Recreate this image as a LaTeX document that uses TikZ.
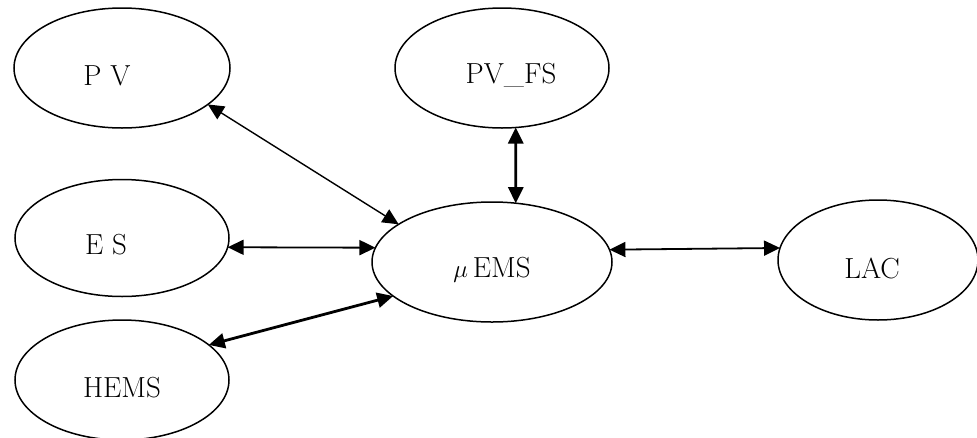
\documentclass[tikz,border=0pt]{standalone}
\usetikzlibrary{arrows.meta,shapes.geometric}
\begin{document}
\begin{tikzpicture}[x=1pt,y=-1pt,
  ell/.style={draw,ellipse,line width=1.5pt,inner sep=0pt,outer sep=0pt},
  lbl/.style={font=\fontsize{29}{32}\selectfont},
  conn/.style={{Triangle[length=16pt,width=15pt]}-{Triangle[length=16pt,width=15pt]}}]
\useasboundingbox (0,0) rectangle (977,437);
\node[ell,minimum width=216pt,minimum height=120pt,
  label={[lbl,xshift=-15pt,yshift=-8pt]center:P V}] (pv) at (122,68) {};
\node[ell,minimum width=214pt,minimum height=117pt,
  label={[lbl,xshift=-16pt,yshift=-7pt]center:E S}] (es) at (122,238) {};
\node[ell,minimum width=214pt,minimum height=120pt,
  label={[lbl,yshift=-8pt]center:HEMS}] (hems) at (122,380) {};
\node[ell,minimum width=214pt,minimum height=120pt,
  label={[lbl,xshift=9pt,yshift=-7pt]center:PV\_FS}] (pvfs) at (502,68) {};
\node[ell,minimum width=240pt,minimum height=120pt,
  label={[lbl,yshift=-8pt]center:$\mu$\,EMS}] (mu) at (492,262) {};
\node[ell,minimum width=200pt,minimum height=120pt,
  label={[lbl,xshift=-6pt,yshift=-8pt]center:LAC}] (lac) at (878,260) {};
\draw[conn,line width=1.4pt] (pv.-23.5) -- (mu.158);
\draw[conn,line width=1.8pt] (es.-5.3) -- (mu.173.3);
\draw[conn,line width=2.8pt] (hems.22.4) -- (mu.-161.2);
\draw[conn,line width=2.8pt] (pvfs.-77.6) -- (mu.68);
\draw[conn,line width=1.8pt] (mu.6.7) -- (lac.173.5);
\end{tikzpicture}
\end{document}
